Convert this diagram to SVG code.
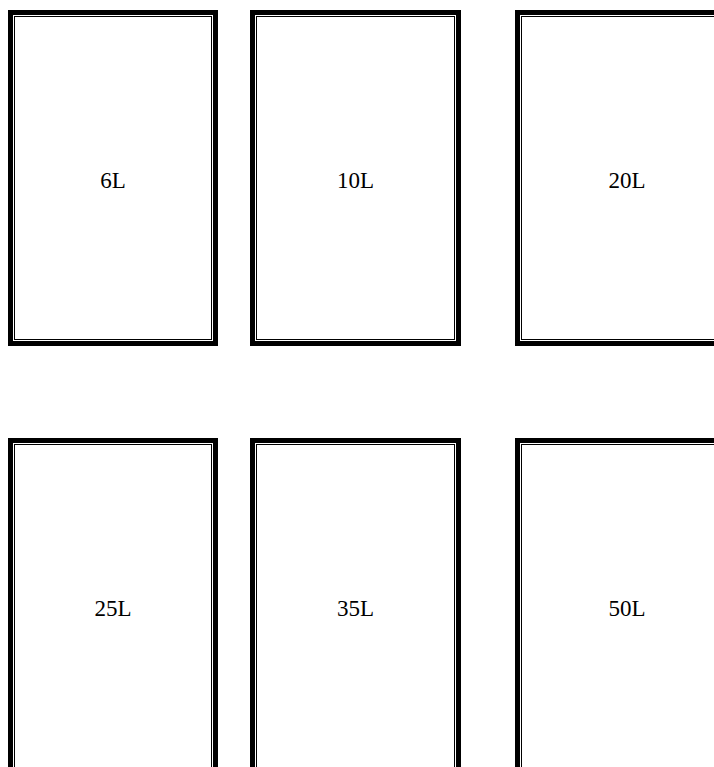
<svg xmlns="http://www.w3.org/2000/svg" width="714" height="767" viewBox="0 0 714 767">
<style>
.outer{fill:none;stroke:#000;stroke-width:5}
.inner{fill:none;stroke:#000;stroke-width:1}
.lbl{font-family:"Liberation Serif","Times New Roman",serif;font-size:23px;fill:#000;text-anchor:middle}
</style>
<rect width="714" height="767" fill="#fff"/>
<g id="n6L">
<rect class="outer" x="10.5" y="12.5" width="205" height="331"/>
<rect class="inner" x="14.5" y="16.5" width="197" height="323"/>
<text class="lbl" x="113" y="188">6L</text>
</g>
<g id="n10L">
<rect class="outer" x="252.5" y="12.5" width="206" height="331"/>
<rect class="inner" x="256.5" y="16.5" width="198" height="323"/>
<text class="lbl" x="355.5" y="188">10L</text>
</g>
<g id="n20L">
<rect class="outer" x="517.5" y="12.5" width="219" height="331"/>
<rect class="inner" x="521.5" y="16.5" width="211" height="323"/>
<text class="lbl" x="627" y="188">20L</text>
</g>
<g id="n25L">
<rect class="outer" x="10.5" y="440.5" width="205" height="331"/>
<rect class="inner" x="14.5" y="444.5" width="197" height="323"/>
<text class="lbl" x="113" y="616">25L</text>
</g>
<g id="n35L">
<rect class="outer" x="252.5" y="440.5" width="206" height="331"/>
<rect class="inner" x="256.5" y="444.5" width="198" height="323"/>
<text class="lbl" x="355.5" y="616">35L</text>
</g>
<g id="n50L">
<rect class="outer" x="517.5" y="440.5" width="219" height="331"/>
<rect class="inner" x="521.5" y="444.5" width="211" height="323"/>
<text class="lbl" x="627" y="616">50L</text>
</g>
<g id="connectors"></g>
</svg>
